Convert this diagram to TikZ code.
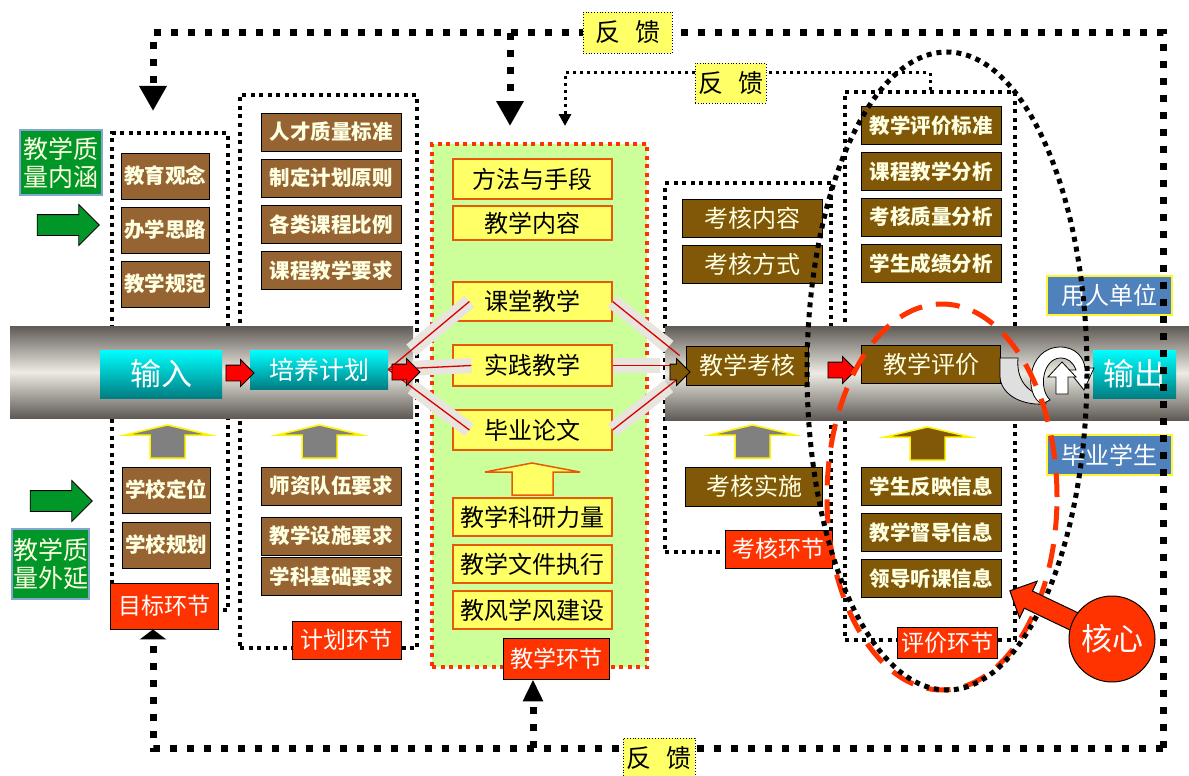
\documentclass[tikz,border=0pt]{standalone}
\usepackage{fontspec}
\newfontfamily\cjk{Noto Sans CJK SC}
\usetikzlibrary{arrows.meta,shapes.arrows,calc}

\definecolor{brownA}{RGB}{150,100,50}
\definecolor{brownB}{RGB}{128,88,8}
\definecolor{creamtxt}{RGB}{255,255,225}
\definecolor{labred}{RGB}{255,51,0}
\definecolor{yelbox}{RGB}{255,255,102}
\definecolor{orgline}{RGB}{230,90,10}
\definecolor{lgreen}{RGB}{204,255,153}
\definecolor{qgreen}{RGB}{0,150,40}
\definecolor{sideblue}{RGB}{79,129,189}
\definecolor{pipedark}{RGB}{95,90,85}
\definecolor{pipelight}{RGB}{238,235,228}
\definecolor{bandgray}{RGB}{232,228,222}
\definecolor{cyanA}{RGB}{0,255,255}
\definecolor{tealA}{RGB}{0,125,130}

\tikzset{
  goalitem/.style={draw=black, line width=0.8pt, fill=brownA, text=creamtxt,
    font=\cjk\bfseries\fontsize{20.5}{24}\selectfont,
    minimum width=88pt, minimum height=46pt, inner sep=0pt},
  planitem/.style={goalitem, minimum width=140pt, minimum height=38pt},
  teachitem/.style={draw=orgline, line width=1.2pt, fill=yelbox, text=black,
    font=\cjk\fontsize{24}{28}\selectfont,
    minimum width=159pt, minimum height=39pt, inner sep=0pt},
  examitem/.style={goalitem, fill=brownB, minimum width=140pt, minimum height=38pt,
    font=\cjk\fontsize{24}{28}\selectfont},
  evalitem/.style={goalitem, fill=brownB, minimum width=140pt, minimum height=38pt},
  stagelab/.style={draw=black, line width=0.8pt, fill=labred, text=white,
    font=\cjk\fontsize{23}{26}\selectfont, inner sep=0pt},
  pipebox/.style={top color=cyanA, bottom color=tealA, text=white,
    font=\cjk\fontsize{25}{28}\selectfont, inner sep=0pt},
  sidebox/.style={draw=yellow!80!white, line width=1.5pt, fill=sideblue, text=white,
    font=\cjk\fontsize{24}{28}\selectfont, minimum width=125pt, minimum height=39pt, inner sep=0pt},
  qualbox/.style={draw=sideblue!70, line width=1.5pt, fill=qgreen, text=creamtxt,
    font=\cjk\fontsize{25}{28}\selectfont, align=center, inner sep=0pt},
  fbbox/.style={draw=black, line width=0.8pt, dotted, fill=yelbox,
    font=\cjk\fontsize{25}{28}\selectfont, inner sep=0pt},
  phasebox/.style={draw=black, line width=4pt, dash pattern=on 4pt off 4.5pt, inner sep=0pt},
  fbloop/.style={line width=7pt, dash pattern=on 7pt off 10pt},
  fbthin/.style={line width=3pt, dash pattern=on 3pt off 4pt},
  band/.style={line width=15pt, bandgray},
  fanline/.style={line width=1.3pt, red!85!black},
  rarrow/.style={single arrow, draw=black, line width=0.8pt, fill=red, inner xsep=0pt,
    inner ysep=7.5pt, single arrow head extend=5.5pt, minimum height=28pt},
  garrow/.style={single arrow, draw=black, line width=0.8pt, fill=qgreen, inner xsep=0pt,
    inner ysep=10pt, single arrow head extend=10pt, minimum height=62pt},
}

% block arrow pointing up: #1 base centre, #2 fill, #3 border
\newcommand{\liftarrow}[3]{%
  \filldraw[fill=#2, draw=#3, line width=1.5pt, shift={(#1)}]
    (-17.5,0) -- (-17.5,-23) -- (-42.5,-23) -- (0,-33) -- (42.5,-23) -- (17.5,-23) -- (17.5,0) -- cycle;}

\begin{document}
\begin{tikzpicture}[x=1pt,y=-1pt]
  \useasboundingbox (0,0) rectangle (1189,776);

  % Phase boxes
  \node[phasebox, minimum width=116pt, minimum height=477pt] (goal) at (170,371.5) {};
  \node[phasebox, minimum width=177pt, minimum height=553pt] (plan) at (328.5,371.5) {};
  \node[phasebox, draw=labred, fill=lgreen, minimum width=215pt, minimum height=523pt] (teach) at (539.5,405.5) {};
  \node[phasebox, minimum width=166pt, minimum height=369pt] (exam) at (748,367.5) {};
  \node[phasebox, minimum width=170pt, minimum height=548pt] (eval) at (930,366) {};

  % Pipe
  \shade[top color=pipedark, bottom color=pipedark, middle color=pipelight] (10,326) rectangle (413,418);
  \shade[top color=pipedark, bottom color=pipedark, middle color=pipelight] (665,326) rectangle (1189,420);

  % Quality inputs
  \node[qualbox, minimum width=82pt, minimum height=65pt] (qualin) at (61,162.5) {教学质\\量内涵};
  \node[qualbox, minimum width=77pt, minimum height=70pt] (qualout) at (50.5,564) {教学质\\量外延};
  \node[garrow] (garrA) at (63,225) {};
  \node[garrow] (garrB) at (56,501) {};

  % Goal stage
  \node[goalitem] (idea) at (165,176) {教育观念};
  \node[goalitem] (route) at (165,230) {办学思路};
  \node[goalitem] (norm) at (165,284) {教学规范};
  \node[goalitem] (locate) at (166,490) {学校定位};
  \node[goalitem] (layout) at (166,545) {学校规划};

  % Plan stage
  \node[planitem] (pstd) at (331,132) {人才质量标准};
  \node[planitem] (prule) at (331,178) {制定计划原则};
  \node[planitem] (pratio) at (331,224.5) {各类课程比例};
  \node[planitem] (preq) at (331,270.5) {课程教学要求};
  \node[planitem] (pstaff) at (331,486) {师资队伍要求};
  \node[planitem] (pfacil) at (331,536) {教学设施要求};
  \node[planitem] (pbase) at (331,576.5) {学科基础要求};

  % Teaching stage
  \node[teachitem, minimum height=40pt] (method) at (532.5,179) {方法与手段};
  \node[teachitem, minimum height=34pt] (content) at (532.5,223) {教学内容};
  \node[teachitem] (classroom) at (532.5,301.5) {课堂教学};
  \node[teachitem, minimum height=41pt] (practice) at (532.5,365.5) {实践教学};
  \node[teachitem, minimum height=40pt] (thesis) at (532.5,430) {毕业论文};
  \node[teachitem, minimum height=38pt] (research) at (532.5,517) {教学科研力量};
  \node[teachitem, minimum height=38pt] (docs) at (532.5,564) {教学文件执行};
  \node[teachitem, minimum height=38pt] (ethos) at (532.5,610) {教风学风建设};

  % Exam stage
  \node[examitem] (econt) at (752,218) {考核内容};
  \node[examitem] (eway) at (752,264) {考核方式};
  \node[examitem, minimum width=137pt, minimum height=39pt] (edo) at (754,486.5) {考核实施};

  % Evaluation stage
  \node[evalitem] (vstd) at (931,125.5) {教学评价标准};
  \node[evalitem] (vcourse) at (931,171.5) {课程教学分析};
  \node[evalitem] (vexam) at (931,217) {考核质量分析};
  \node[evalitem] (vscore) at (931,263.5) {学生成绩分析};
  \node[evalitem] (vstu) at (931,486.5) {学生反映信息};
  \node[evalitem] (vsup) at (931,532.5) {教学督导信息};
  \node[evalitem] (vlead) at (931,578.5) {领导听课信息};

  % Main line
  \node[pipebox, minimum width=122pt, minimum height=48pt, font=\cjk\fontsize{31}{34}\selectfont] (input) at (161,374) {输入};
  \node[pipebox, minimum width=138pt, minimum height=39pt] (curplan) at (319,369.5) {培养计划};
  \node[examitem, minimum width=122pt, minimum height=39pt] (assess) at (747,365.5) {教学考核};
  \node[examitem, minimum width=139pt] (evaluate) at (931,364) {教学评价};
  \node[pipebox, minimum width=83pt, minimum height=48pt, font=\cjk\fontsize{31}{34}\selectfont] (output) at (1134.5,374) {输出};
  \node[sidebox] (employer) at (1109.5,295.5) {用人单位};
  \node[sidebox, minimum height=40pt] (graduate) at (1109.5,455) {毕业学生};

  % Fan out / fan in
  \draw[band, shorten <=30pt] (curplan.east) -- ([xshift=17pt]classroom.west);
  \draw[band, shorten <=24pt] (curplan.east) -- ([xshift=19pt]practice.west);
  \draw[band, shorten <=30pt] (curplan.east) -- ([xshift=17pt]thesis.west);
  \draw[band, shorten >=14pt] (classroom.east) -- ([shift={(-6,-10)}]assess.west);
  \draw[band, shorten >=20pt] (practice.east) -- ([xshift=-6pt]assess.west);
  \draw[band, shorten >=14pt] (thesis.east) -- ([shift={(-6,12)}]assess.west);
  \draw[fanline] (curplan.east) -- ([xshift=17pt]classroom.west);
  \draw[fanline] (curplan.east) -- ([xshift=19pt]practice.west);
  \draw[fanline] (curplan.east) -- ([xshift=17pt]thesis.west);
  \draw[fanline] (classroom.east) -- ([shift={(-6,-10)}]assess.west);
  \draw[fanline] (practice.east) -- ([xshift=-6pt]assess.west);
  \draw[fanline] (thesis.east) -- ([shift={(-6,12)}]assess.west);

  % Arrows on the line
  \node[rarrow] (arrA) at (236,373) {};
  \node[rarrow] (arrB) at (402,372) {};
  \node[rarrow, fill=brownB, minimum height=20pt] (arrC) at (676,372) {};
  \node[rarrow] (arrD) at (838,370) {};

  % Supporting arrows
  \liftarrow{167.5,458}{gray}{yellow}
  \liftarrow{319.5,458}{gray}{yellow}
  \liftarrow{752.5,458}{gray}{yellow}
  \liftarrow{927.5,460}{brownB}{yellow}
  \filldraw[fill=yelbox, draw=orgline, line width=1.5pt]
    (512,495) -- (512,472) -- (485,472) -- (532,463) -- (580,472) -- (553,472) -- (553,495) -- cycle;

  % Cycle icon
  \filldraw[fill=gray!25, draw=black, line width=0.8pt]
    (1000,358) -- (1018,358) .. controls (1016,380) and (1028,394) .. (1046,396)
    -- (1046,404) .. controls (1018,406) and (1000,392) .. (1000,376) -- cycle;
  \filldraw[fill=white, draw=black, line width=0.8pt]
    (1042,404) .. controls (1024,396) and (1026,348) .. (1060,347)
    .. controls (1076,347) and (1084,358) .. (1085,368) -- (1094,368) -- (1084,390) -- (1068,370) -- (1076,370)
    .. controls (1073,362) and (1068,358) .. (1060,358) .. controls (1043,359) and (1038,388) .. (1050,400) -- cycle;
  \filldraw[fill=white, draw=black, line width=0.8pt]
    (1056,394) -- (1056,377) -- (1048,377) -- (1062,362) -- (1076,377) -- (1068,377) -- (1068,394) -- cycle;

  % Stage labels
  \node[stagelab, minimum width=108pt, minimum height=46pt] (goallab) at (164,606) {目标环节};
  \node[stagelab, minimum width=109pt, minimum height=38pt] (planlab) at (346.5,640) {计划环节};
  \node[stagelab, minimum width=106pt, minimum height=41pt] (teachlab) at (556,658.5) {教学环节};
  \node[stagelab, minimum width=107pt, minimum height=38pt] (examlab) at (778.5,549) {考核环节};
  \node[stagelab, minimum width=100pt, minimum height=31pt] (evallab) at (947,643) {评价环节};

  % Feedback
  \coordinate (fbTL) at (153,33);
  \coordinate (fbTR) at (1163,33);
  \coordinate (fbBR) at (1163,748);
  \coordinate (fbBL) at (153,748);
  \coordinate (fbTeachT) at (510,33);
  \coordinate (fbTeachB) at (533,748);
  \coordinate (fbInL) at (565,73);
  \coordinate (fbInR) at (930,73);
  \draw[fbloop, -{Triangle[length=25pt,width=26pt]}, shorten >=20pt] (fbBR) -- (fbTR) -- (fbTL) -- (goal.north -| fbTL);
  \draw[fbloop, -{Triangle[length=10pt,width=26pt]}] (fbBR) -- (fbBL) -- (goallab.south -| fbBL);
  \draw[fbloop, -{Triangle[length=25pt,width=26pt]}, shorten >=16pt] (fbTeachT) -- (fbTeachT |- teach.north);
  \draw[fbloop, -{Triangle[length=22pt,width=19pt]}] (fbTeachB) -- (fbTeachB |- teachlab.south);
  \draw[fbthin, -{Triangle[length=12pt,width=12pt]}, shorten >=16pt] (eval.north -| fbInR) -- (fbInR) -- (fbInL) -- (fbInL |- teach.north);
  \node[fbbox, minimum width=89pt, minimum height=41pt] (fbtop) at (627.5,32.5) {反\hspace{0.6em}馈};
  \node[fbbox, minimum width=71pt, minimum height=40pt] (fbmid) at (730.5,83) {反\hspace{0.6em}馈};
  \node[fbbox, minimum width=72pt, minimum height=40pt] (fbbot) at (659,758) {反\hspace{0.6em}馈};

  % Core ring
  \draw[labred, line width=5pt, dash pattern=on 24pt off 14pt] (942,497) ellipse [x radius=115pt, y radius=193pt];
  \draw[line width=5pt, dash pattern=on 5pt off 5pt] (947,371) ellipse [x radius=140pt, y radius=319pt];
  \node[single arrow, draw=black, line width=1pt, fill=labred, inner xsep=0pt, inner ysep=9pt,
    single arrow head extend=11pt, minimum height=75pt, rotate=154.5] (corearr) at (1048,609) {};
  \node[circle, draw=black, line width=1pt, fill=labred, text=white, minimum size=86pt, inner sep=0pt,
    font=\cjk\fontsize{31}{34}\selectfont] (core) at (1112,639) {核心};
\end{tikzpicture}
\end{document}
